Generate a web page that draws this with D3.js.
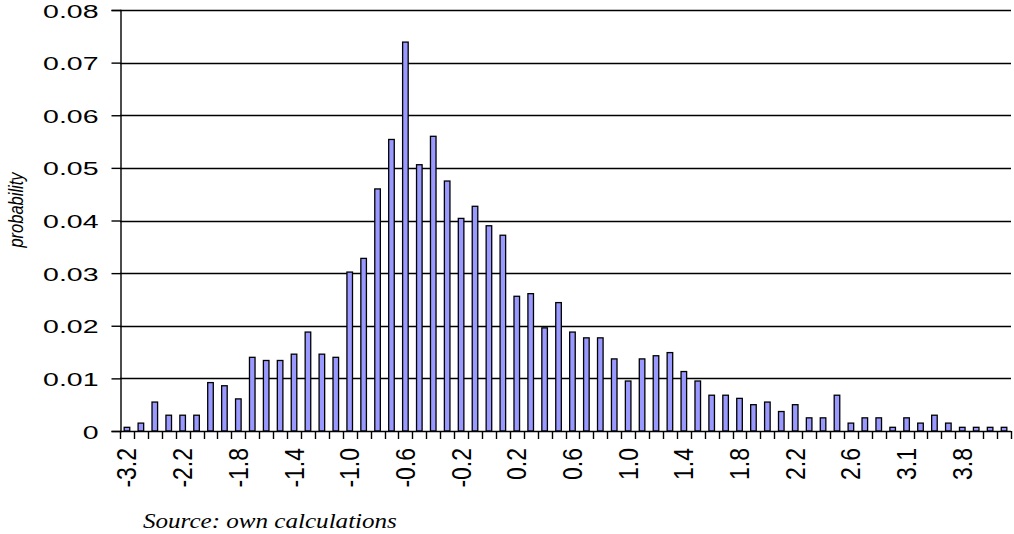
<!DOCTYPE html>
<html>
<head>
<meta charset="utf-8">
<script src="https://cdn.jsdelivr.net/npm/d3@7"></script>
<style>
  html, body { margin: 0; padding: 0; background: #fff; }
  svg { display: block; }
</style>
</head>
<body>
<svg id="chart" width="1014" height="534"></svg>
<script>
// Category labels (bin centres); only every 4th is shown on the axis
const categories = [
  "-3.2","-2.8","-2.5","-2.3",
  "-2.2","-2.1","-2.0","-1.9",
  "-1.8","-1.7","-1.6","-1.5",
  "-1.4","-1.3","-1.2","-1.1",
  "-1.0","-0.9","-0.8","-0.7",
  "-0.6","-0.5","-0.4","-0.3",
  "-0.2","-0.1","0.0","0.1",
  "0.2","0.3","0.4","0.5",
  "0.6","0.7","0.8","0.9",
  "1.0","1.1","1.2","1.3",
  "1.4","1.5","1.6","1.7",
  "1.8","1.9","2.0","2.1",
  "2.2","2.3","2.4","2.5",
  "2.6","2.7","2.8","2.9",
  "3.1","3.2","3.3","3.5",
  "3.8","3.9","4.0","4.2"
];
const probability = [
  0.0007, 0.0015, 0.0055, 0.0030,
  0.0030, 0.0030, 0.0092, 0.0086,
  0.0061, 0.0140, 0.0134, 0.0134,
  0.0146, 0.0188, 0.0146, 0.0140,
  0.0302, 0.0328, 0.0460, 0.0554,
  0.0739, 0.0506, 0.0560, 0.0475,
  0.0404, 0.0427, 0.0390, 0.0372,
  0.0256, 0.0261, 0.0196, 0.0244,
  0.0188, 0.0177, 0.0177, 0.0137,
  0.0095, 0.0137, 0.0143, 0.0149,
  0.0113, 0.0095, 0.0068, 0.0068,
  0.0062, 0.0050, 0.0055, 0.0037,
  0.0050, 0.0025, 0.0025, 0.0068,
  0.0015, 0.0025, 0.0025, 0.0007,
  0.0025, 0.0015, 0.0030, 0.0015,
  0.0007, 0.0007, 0.0007, 0.0007
];
const yTicks = [0, 0.01, 0.02, 0.03, 0.04, 0.05, 0.06, 0.07, 0.08];
const yTickLabels = ["0", "0.01", "0.02", "0.03", "0.04", "0.05", "0.06", "0.07", "0.08"];
const yTitle = "probability";
const sourceNote = "Source: own calculations";

(function () {
const svg = d3.select("#chart");
const mLeft = 120, mRight = 1011, mTop = 10, mBottom = 431;
const sans = "Liberation Sans, Arial, sans-serif";

const x = d3.scaleBand().domain(categories).range([mLeft, mRight]).paddingInner(0).paddingOuter(0);
const y = d3.scaleLinear().domain([0, 0.08]).range([mBottom, mTop]);

// gridlines
svg.append("g").selectAll("line").data(yTicks.slice(1)).join("line")
  .attr("x1", mLeft).attr("x2", mRight)
  .attr("y1", d => Math.round(y(d)) + 0.5).attr("y2", d => Math.round(y(d)) + 0.5)
  .attr("stroke", "#000").attr("stroke-width", 1.4);

// bars
const bw = x.bandwidth() * 0.4;
svg.append("g").selectAll("rect").data(probability).join("rect")
  .attr("x", (d, i) => x(categories[i]) + (x.bandwidth() - bw) / 2)
  .attr("y", d => y(d))
  .attr("width", bw)
  .attr("height", d => mBottom - y(d))
  .attr("fill", "#9999ff")
  .attr("stroke", "#000")
  .attr("stroke-width", 1.3);

// y axis
const yAxis = d3.axisLeft(y).tickValues(yTicks)
  .tickFormat((d, i) => yTickLabels[i]).tickSize(9).tickPadding(0);
const gy = svg.append("g").attr("transform", `translate(${mLeft + 0.5},0)`).call(yAxis);
gy.select(".domain").attr("stroke", "#000").attr("stroke-width", 1.4);
gy.selectAll(".tick line").attr("stroke", "#000").attr("stroke-width", 1.4);
gy.selectAll(".tick text")
  .attr("x", null).attr("dy", null)
  .attr("transform", "translate(-22,7) scale(1.5,1)")
  .attr("text-anchor", "end")
  .attr("font-family", sans)
  .attr("font-size", 19).attr("fill", "#000");

// x axis: ticks at category boundaries
const boundaries = categories.map(c => x(c)).concat([mRight]);
const gx = svg.append("g");
gx.append("line").attr("x1", mLeft).attr("x2", mRight)
  .attr("y1", mBottom + 0.5).attr("y2", mBottom + 0.5)
  .attr("stroke", "#000").attr("stroke-width", 1.4);
gx.selectAll("line.tk").data(boundaries).join("line").attr("class", "tk")
  .attr("x1", d => Math.round(d) + 0.5).attr("x2", d => Math.round(d) + 0.5)
  .attr("y1", mBottom).attr("y2", mBottom + 8)
  .attr("stroke", "#000").attr("stroke-width", 1.4);
gx.selectAll("text").data(categories.filter((c, i) => i % 4 === 0)).join("text")
  .attr("transform", d => `translate(${x(d) + x.bandwidth() / 2 + 9.5},${mBottom + 17}) scale(1.18,1) rotate(-90)`)
  .attr("text-anchor", "end")
  .attr("font-family", sans)
  .attr("font-size", 23).attr("fill", "#000")
  .text(d => d);

// y title
svg.append("text")
  .attr("transform", `translate(23,210) scale(1.24,1) rotate(-90)`)
  .attr("text-anchor", "middle")
  .attr("font-family", sans)
  .attr("font-style", "italic")
  .attr("font-size", 16.5).attr("fill", "#000")
  .text(yTitle);

// source note
svg.append("text")
  .attr("transform", "translate(143,528) scale(1.14,1)")
  .attr("font-family", "Liberation Serif, Times New Roman, serif")
  .attr("font-style", "italic")
  .attr("font-size", 22).attr("fill", "#000")
  .text(sourceNote);
})();
</script>
</body>
</html>
